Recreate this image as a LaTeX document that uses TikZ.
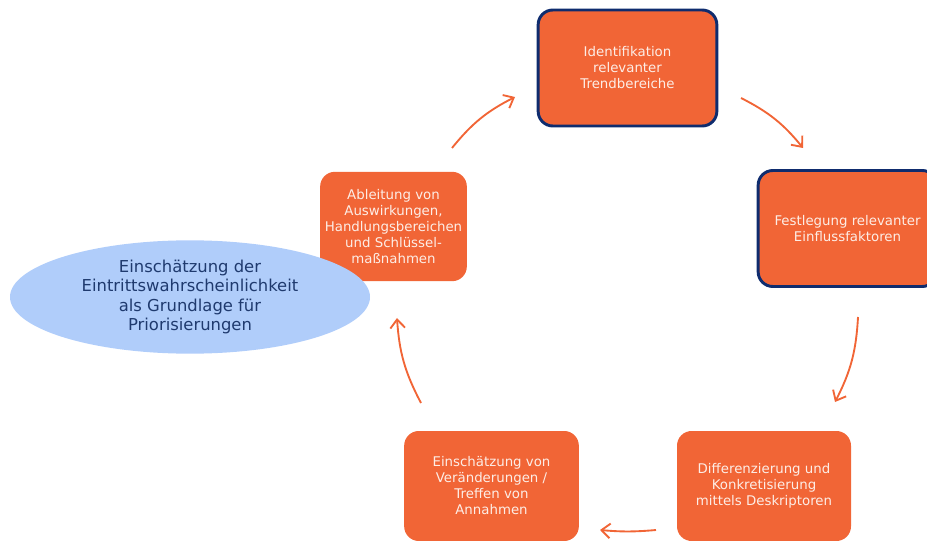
\documentclass[tikz,border=0pt]{standalone}
\usepackage{fontspec}
\setmainfont{DejaVu Sans}
\usetikzlibrary{shapes.geometric,arrows.meta}
\definecolor{orangefill}{HTML}{F16536}
\definecolor{darkblue}{HTML}{0F2C6E}
\definecolor{lightblue}{HTML}{B0CDFA}
\definecolor{textblue}{HTML}{1F3A6E}
\definecolor{textwhite}{HTML}{FDEDE6}

\begin{document}
\begin{tikzpicture}[x=0.75pt,y=0.75pt,
  box/.style={fill=orangefill,rounded corners=11pt,text=textwhite,align=center,
    font=\fontsize{10}{12}\selectfont,inner sep=2pt},
  keybox/.style={box,draw=darkblue,line width=2.2pt},
  arr/.style={draw=orangefill,line width=1.4pt,-{Straight Barb[length=6.5pt,width=11pt]},bend left=12}]
\useasboundingbox (0,0) rectangle (927,-541);
\clip (0,0) rectangle (927,-541);
% cycle of steps
\node[keybox,minimum width=134pt,minimum height=87pt] (ident) at (627.5,-68) {Identifikation\\relevanter\\Trendbereiche};
\node[keybox,minimum width=134pt,minimum height=87pt] (fest) at (847.5,-228.5) {Festlegung relevanter\\Einflussfaktoren};
\node[box,minimum width=130.5pt,minimum height=82.5pt] (diff) at (764,-486) {Differenzierung und\\Konkretisierung\\mittels Deskriptoren};
\node[box,minimum width=131pt,minimum height=82.5pt] (einsch) at (491.5,-486) {Einschätzung von\\Veränderungen /\\Treffen von\\Annahmen};
\node[box,minimum width=110pt,minimum height=82pt] (ableit) at (393.5,-226.5) {Ableitung von\\Auswirkungen,\\Handlungsbereichen\\und Schlüssel-\\maßnahmen};
\node[ellipse,fill=lightblue,text=textblue,align=center,inner sep=0pt,
  minimum width=270pt,minimum height=85pt,font=\fontsize{12.3}{14.3}\selectfont] (prio) at (190,-297)
  {Einschätzung der\\Eintrittswahrscheinlichkeit\\als Grundlage für\\Priorisierungen};
% arrow ends
\coordinate (a1s) at (452,-148); \coordinate (a1e) at (515,-97);
\coordinate (a2s) at (741,-98);  \coordinate (a2e) at (803,-148);
\coordinate (a3s) at (858,-317); \coordinate (a3e) at (835,-402);
\coordinate (a4s) at (656,-530); \coordinate (a4e) at (600,-530);
\coordinate (a5s) at (421,-403); \coordinate (a5e) at (397,-318);
\draw[arr] (a1s) to (a1e);
\draw[arr] (a2s) to (a2e);
\draw[arr] (a3s) to (a3e);
\draw[arr,bend left=5] (a4s) to (a4e);
\draw[arr] (a5s) to (a5e);
\end{tikzpicture}
\end{document}
